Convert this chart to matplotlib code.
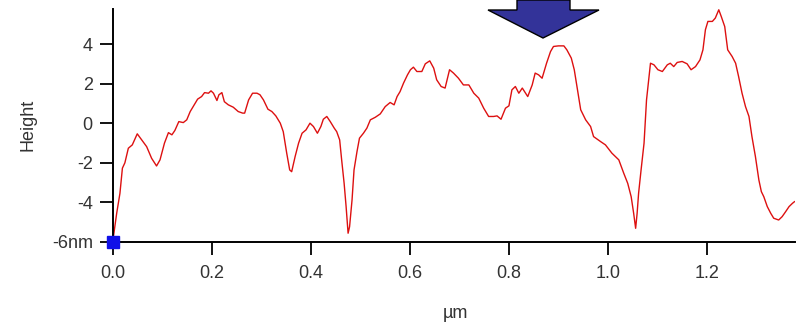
import matplotlib
matplotlib.use("Agg")
import matplotlib.pyplot as plt
from matplotlib.patches import Polygon

# profile (x in µm, height in nm)
x_um = [0.000, 0.0075, 0.014, 0.019, 0.024, 0.031, 0.039, 0.049, 0.058, 0.068,
        0.078, 0.088, 0.095, 0.104, 0.112, 0.119, 0.125, 0.133, 0.142, 0.149,
        0.156, 0.162, 0.171, 0.179, 0.185, 0.193, 0.198, 0.203, 0.210, 0.214,
        0.220, 0.225, 0.233, 0.243, 0.253, 0.262, 0.266, 0.274, 0.282, 0.291,
        0.297, 0.304, 0.313, 0.321, 0.329, 0.338, 0.344, 0.351, 0.357, 0.361,
        0.368, 0.375, 0.382, 0.390, 0.398, 0.405, 0.413, 0.420, 0.425, 0.432,
        0.439, 0.447, 0.452, 0.458, 0.462, 0.467, 0.471, 0.475, 0.478, 0.483,
        0.487, 0.493, 0.498, 0.506, 0.513, 0.520, 0.530, 0.540, 0.550, 0.560,
        0.568, 0.574, 0.580, 0.587, 0.595, 0.601, 0.607, 0.614, 0.624, 0.631,
        0.640, 0.648, 0.654, 0.663, 0.671, 0.680, 0.688, 0.698, 0.708, 0.719,
        0.729, 0.739, 0.749, 0.759, 0.769, 0.776, 0.784, 0.793, 0.800, 0.806,
        0.813, 0.820, 0.827, 0.838, 0.847, 0.853, 0.860, 0.867, 0.876, 0.884,
        0.890, 0.900, 0.911, 0.917, 0.926, 0.932, 0.939, 0.945, 0.955, 0.965,
        0.971, 0.985, 0.995, 1.008, 1.022, 1.032, 1.040, 1.047, 1.052, 1.056,
        1.059, 1.062, 1.067, 1.073, 1.078, 1.083, 1.086, 1.093, 1.101, 1.110,
        1.120, 1.126, 1.133, 1.140, 1.150, 1.160, 1.168, 1.177, 1.186, 1.192,
        1.197, 1.202, 1.211, 1.217, 1.224, 1.229, 1.236, 1.242, 1.251, 1.258,
        1.264, 1.271, 1.278, 1.285, 1.291, 1.298, 1.305, 1.310, 1.315, 1.322,
        1.329, 1.335, 1.345, 1.352, 1.359, 1.366, 1.373, 1.377]
height_nm = [-5.90, -4.55, -3.55, -2.27, -2.00, -1.26, -1.09, -0.53, -0.84, -1.18,
             -1.77, -2.16, -1.85, -1.00, -0.47, -0.58, -0.36, 0.09, 0.04, 0.18,
             0.60, 0.85, 1.23, 1.36, 1.56, 1.53, 1.65, 1.53, 1.16, 1.45,
             1.56, 1.10, 0.94, 0.82, 0.60, 0.52, 0.52, 1.19, 1.53, 1.53,
             1.45, 1.19, 0.72, 0.60, 0.38, 0.01, -0.42, -1.51, -2.36, -2.45,
             -1.68, -1.00, -0.50, -0.33, 0.01, -0.16, -0.50, -0.16, 0.21, 0.35,
             0.09, -0.24, -0.42, -0.84, -1.85, -3.04, -4.22, -5.57, -5.24, -3.88,
             -2.36, -1.43, -0.75, -0.50, -0.24, 0.18, 0.31, 0.48, 0.85, 1.06,
             0.94, 1.36, 1.61, 2.04, 2.46, 2.72, 2.85, 2.63, 2.63, 3.02,
             3.17, 2.80, 2.21, 1.87, 1.79, 2.72, 2.55, 2.29, 1.95, 1.95,
             1.53, 1.28, 0.77, 0.35, 0.35, 0.38, 0.21, 0.77, 0.89, 1.70,
             1.87, 1.53, 1.79, 1.36, 1.95, 2.55, 2.46, 2.29, 3.05, 3.64,
             3.90, 3.93, 3.93, 3.73, 3.31, 2.72, 1.61, 0.69, 0.18, -0.16,
             -0.67, -0.92, -1.09, -1.51, -1.85, -2.53, -3.04, -3.72, -4.56, -5.32,
             -4.56, -3.54, -2.36, -1.00, 1.19, 2.38, 3.05, 2.97, 2.72, 2.63,
             2.97, 3.05, 2.88, 3.09, 3.14, 3.02, 2.72, 2.88, 3.22, 3.73,
             4.75, 5.17, 5.17, 5.34, 5.76, 5.42, 4.91, 3.73, 3.39, 3.05,
             2.38, 1.53, 0.85, 0.35, -0.67, -1.68, -2.87, -3.46, -3.72, -4.22,
             -4.56, -4.81, -4.90, -4.73, -4.48, -4.22, -4.05, -3.97]

x_ticks = [0.0, 0.2, 0.4, 0.6, 0.8, 1.0, 1.2]
x_tick_labels = ["0.0", "0.2", "0.4", "0.6", "0.8", "1.0", "1.2"]
y_ticks = [-6, -4, -2, 0, 2, 4]
y_tick_labels = ["-6nm", "-4", "-2", "0", "2", "4"]

plt.rcParams["font.family"] = ["Liberation Sans", "DejaVu Sans"]

W, H = 799, 327
fig = plt.figure(figsize=(W / 100, H / 100), dpi=100)
ax = fig.add_axes([113 / W, 1 - 241.7 / H, (795 - 113) / W, (241.7 - 9) / H])

ax.plot(x_um, height_nm, color="#dd1010", lw=1.0)
ax.plot([0], [-6], marker="s", ms=9, color="#1010e8", clip_on=False, zorder=5)

ax.set_xlim(0, 1.378)
ax.set_ylim(-6, 5.8)
ax.set_xticks(x_ticks)
ax.set_xticklabels(x_tick_labels)
ax.set_yticks(y_ticks)
ax.set_yticklabels(y_tick_labels)

for s in ["top", "right"]:
    ax.spines[s].set_visible(False)
for s in ["left", "bottom"]:
    ax.spines[s].set_linewidth(1.4)
ax.tick_params(direction="out", length=9.5, width=1.3, labelsize=13,
               labelcolor="#333333")
ax.tick_params(axis="y", pad=5)
ax.tick_params(axis="x", pad=7)
ax.set_xlabel("µm", fontsize=13, color="#333333", va="center")
ax.set_ylabel("Height", fontsize=13, color="#333333", va="center")
ax.xaxis.set_label_coords((455 - 113) / 682, (241.7 - 314) / 232.7)
ax.yaxis.set_label_coords((28 - 113) / 682, 0.5)

# blue pointer arrow above the peak (figure pixel coordinates)
arrow_px = [(517, 0), (570, 0), (570, 10), (599, 10), (543, 38),
            (488, 10), (517, 10)]
arrow = Polygon([(px / W, 1 - py / H) for px, py in arrow_px],
                closed=True, transform=fig.transFigure,
                facecolor="#333399", edgecolor="black", lw=1.0, zorder=10)
fig.patches.append(arrow)

fig.savefig("out.png", dpi=100)
